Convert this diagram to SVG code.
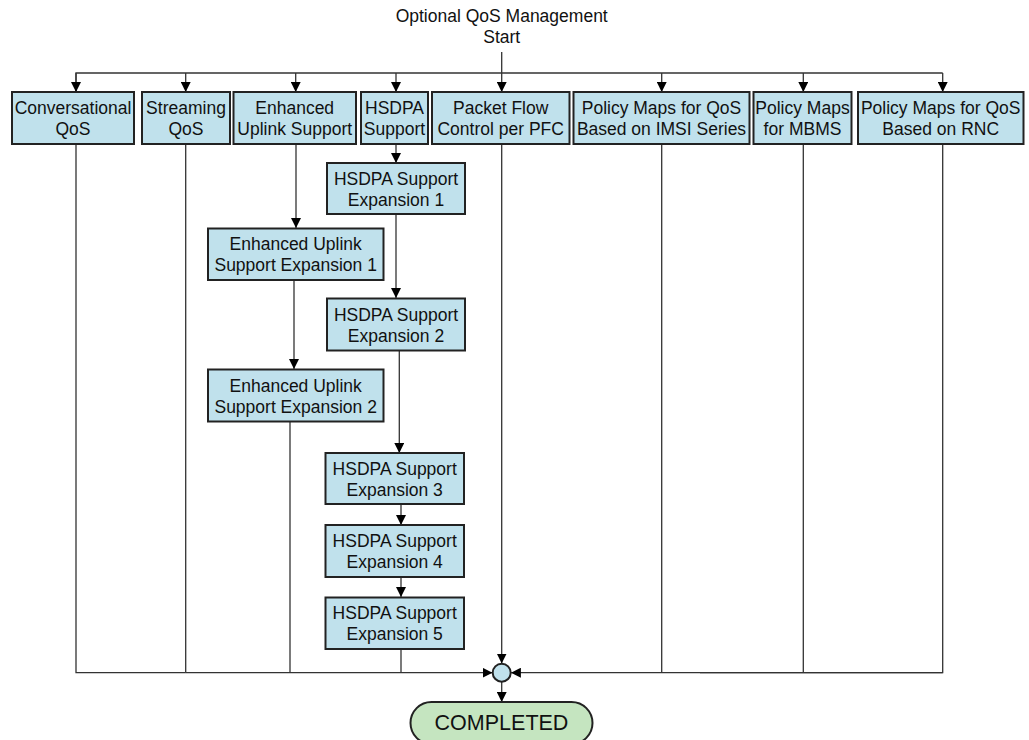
<svg xmlns="http://www.w3.org/2000/svg" width="1029" height="740" viewBox="0 0 1029 740">
<style>
.box{fill:#c0e1ec;stroke:#222;stroke-width:2}
.t{font-family:"Liberation Sans",Arial,sans-serif;font-size:17.5px;fill:#111;text-anchor:middle}
.c{fill:none;stroke:#333;stroke-width:1.3}
.ca{fill:none;stroke:#333;stroke-width:1.3;marker-end:url(#ah)}
</style>
<defs>
<marker id="ah" viewBox="0 0 10 10" refX="10" refY="5" markerWidth="10" markerHeight="10" markerUnits="userSpaceOnUse" orient="auto">
<path d="M0,0 L10,5 L0,10 z" fill="#000"/>
</marker>
</defs>
<rect width="1029" height="740" fill="#fff"/>

<g id="start">
<text class="t" x="501.7" y="22">Optional QoS Management</text>
<text class="t" x="501.7" y="42.5">Start</text>
</g>

<g id="connectors">
<line class="ca" x1="501.7" y1="52" x2="501.7" y2="92"/>
<polyline class="c" points="76,92 76,73 942.7,73"/>
<line class="ca" x1="76" y1="73" x2="76" y2="92"/>
<line class="ca" x1="185.7" y1="73" x2="185.7" y2="92"/>
<line class="ca" x1="295.7" y1="73" x2="295.7" y2="92"/>
<line class="ca" x1="396" y1="73" x2="396" y2="92"/>
<line class="ca" x1="661.7" y1="73" x2="661.7" y2="92"/>
<line class="ca" x1="803.3" y1="73" x2="803.3" y2="92"/>
<line class="ca" x1="942.7" y1="73" x2="942.7" y2="92"/>

<line class="ca" x1="396" y1="144" x2="396" y2="163"/>
<line class="ca" x1="296" y1="144" x2="296" y2="228"/>
<line class="ca" x1="396" y1="214" x2="396" y2="298"/>
<line class="ca" x1="294" y1="280" x2="294" y2="369"/>
<line class="ca" x1="399.3" y1="351" x2="399.3" y2="453"/>
<line class="ca" x1="401" y1="504" x2="401" y2="525"/>
<line class="ca" x1="401" y1="577" x2="401" y2="597"/>

<polyline class="c" points="76,144 76,672.7 185.7,672.7"/>
<line class="c" x1="185.7" y1="144" x2="185.7" y2="672.7"/>
<line class="c" x1="290" y1="422" x2="290" y2="672.7"/>
<line class="c" x1="401" y1="649" x2="401" y2="672.7"/>
<line class="ca" x1="185.7" y1="672.7" x2="492.5" y2="672.7"/>
<line class="ca" x1="501.7" y1="144" x2="501.7" y2="663.5"/>
<polyline class="c" points="661.7,144 661.7,672.7"/>
<line class="c" x1="803.3" y1="144" x2="803.3" y2="672.7"/>
<polyline class="c" points="942.7,144 942.7,672.7 700,672.7"/>
<line class="ca" x1="942.7" y1="672.7" x2="510.9" y2="672.7"/>
<line class="ca" x1="501.7" y1="682" x2="501.7" y2="702"/>
</g>

<g id="n-conversational"><rect class="box" x="12" y="92" width="122" height="52"/><text class="t" x="73" y="114">Conversational</text><text class="t" x="73" y="135">QoS</text></g>
<g id="n-streaming"><rect class="box" x="142" y="92" width="88" height="52"/><text class="t" x="186" y="114">Streaming</text><text class="t" x="186" y="135">QoS</text></g>
<g id="n-enhanced"><rect class="box" x="233.5" y="92" width="122.5" height="52"/><text class="t" x="294.7" y="114">Enhanced</text><text class="t" x="294.7" y="135">Uplink Support</text></g>
<g id="n-hsdpa"><rect class="box" x="361" y="92" width="67" height="52"/><text class="t" x="394.5" y="114">HSDPA</text><text class="t" x="394.5" y="135">Support</text></g>
<g id="n-pfc"><rect class="box" x="432" y="92" width="137.5" height="52"/><text class="t" x="500.7" y="114">Packet Flow</text><text class="t" x="500.7" y="135">Control per PFC</text></g>
<g id="n-imsi"><rect class="box" x="573.5" y="92" width="176" height="52"/><text class="t" x="661.5" y="114">Policy Maps for QoS</text><text class="t" x="661.5" y="135">Based on IMSI Series</text></g>
<g id="n-mbms"><rect class="box" x="753.5" y="92" width="98" height="52"/><text class="t" x="802.5" y="114">Policy Maps</text><text class="t" x="802.5" y="135">for MBMS</text></g>
<g id="n-rnc"><rect class="box" x="858" y="92" width="165.5" height="52"/><text class="t" x="940.7" y="114">Policy Maps for QoS</text><text class="t" x="940.7" y="135">Based on RNC</text></g>

<g id="n-hsdpa1"><rect class="box" x="327" y="163" width="138" height="51"/><text class="t" x="396" y="184.5">HSDPA Support</text><text class="t" x="396" y="205.5">Expansion 1</text></g>
<g id="n-eu1"><rect class="box" x="208" y="228.5" width="175.5" height="51.5"/><text class="t" x="295.7" y="250">Enhanced Uplink</text><text class="t" x="295.7" y="271">Support Expansion 1</text></g>
<g id="n-hsdpa2"><rect class="box" x="327" y="298.5" width="138" height="52"/><text class="t" x="396" y="320.5">HSDPA Support</text><text class="t" x="396" y="341.5">Expansion 2</text></g>
<g id="n-eu2"><rect class="box" x="208" y="369.5" width="175.5" height="52"/><text class="t" x="295.7" y="391.5">Enhanced Uplink</text><text class="t" x="295.7" y="412.5">Support Expansion 2</text></g>
<g id="n-hsdpa3"><rect class="box" x="325.5" y="453" width="138.5" height="51"/><text class="t" x="394.7" y="474.5">HSDPA Support</text><text class="t" x="394.7" y="495.5">Expansion 3</text></g>
<g id="n-hsdpa4"><rect class="box" x="325.5" y="525" width="138.5" height="52"/><text class="t" x="394.7" y="547">HSDPA Support</text><text class="t" x="394.7" y="568">Expansion 4</text></g>
<g id="n-hsdpa5"><rect class="box" x="325.5" y="597.5" width="138.5" height="51.5"/><text class="t" x="394.7" y="619">HSDPA Support</text><text class="t" x="394.7" y="640">Expansion 5</text></g>

<g id="n-join"><circle cx="501.7" cy="672.7" r="9" fill="#c0e1ec" stroke="#222" stroke-width="2"/></g>
<g id="n-completed"><rect x="410.5" y="702" width="182" height="42" rx="21" fill="#c5e5c0" stroke="#222" stroke-width="2"/><text class="t" x="501.5" y="730" style="font-size:21.5px">COMPLETED</text></g>
</svg>
